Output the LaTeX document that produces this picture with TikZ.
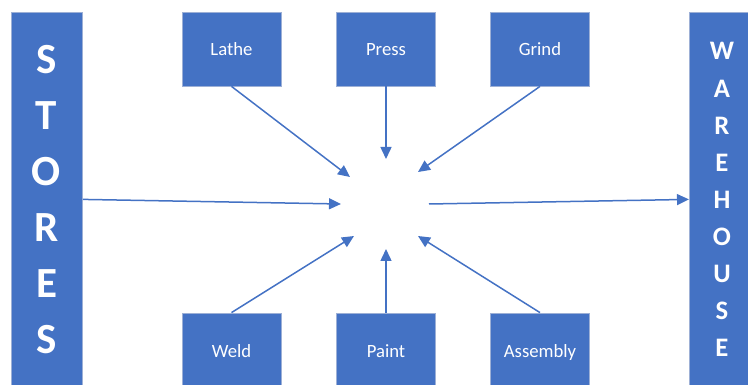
\documentclass[tikz,border=0pt]{standalone}
\usepackage{fontspec}
\setmainfont{Carlito}
\usetikzlibrary{arrows.meta}
\definecolor{boxblue}{HTML}{4472C4}
\definecolor{boxedge}{HTML}{9DB0D6}
\begin{document}
\begin{tikzpicture}[x=1pt,y=-1pt,
  station/.style={draw=boxedge, line width=0.8pt, fill=boxblue, text=white,
    minimum width=99pt, minimum height=74pt, inner sep=0pt,
    text height=13pt, text depth=0pt,
    font=\fontsize{18.7}{22}\selectfont},
  tall/.style={draw=boxedge, line width=0.8pt, fill=boxblue, inner sep=0pt, anchor=north west},
  bigletter/.style={text=white, anchor=base, inner sep=0pt, font=\fontsize{43}{50}\selectfont\bfseries},
  midletter/.style={text=white, anchor=base, inner sep=0pt, font=\fontsize{26.7}{30}\selectfont\bfseries},
  flow/.style={draw=boxblue, line width=1.5pt, -{Triangle[length=12pt,width=11pt]}}]
\useasboundingbox (0,0) rectangle (748,385);
\begin{scope}
  \clip (0,0) rectangle (748,385);
  % side blocks
  \node[tall, minimum width=71pt, minimum height=374pt] (stores) at (11,12) {};
  \node[tall, minimum width=66pt, minimum height=374pt] (warehouse) at (689,12) {};
  % work stations
  \node[station] (lathe) at (231.5,49) {Lathe};
  \node[station] (press) at (386,49) {Press};
  \node[station] (grind) at (540,49) {Grind};
  \node[station, minimum height=76pt] (weld) at (231.5,351) {Weld};
  \node[station, minimum height=76pt] (paint) at (386,351) {Paint};
  \node[station, minimum height=76pt] (assembly) at (540,351) {Assembly};
\end{scope}
% vertical lettering
\foreach \ch [count=\i from 0] in {S,T,O,R,E,S}
  \node[bigletter] (st\i) at (46.5,74+55.8*\i) {\ch};
\foreach \ch [count=\i from 0] in {W,A,R,E,H,O,U,S,E}
  \node[midletter] (wh\i) at (722,60+37.1*\i) {\ch};
% arrow ends around the central hub
\coordinate (hLathe) at (350,177);
\coordinate (hPress) at (386,159);
\coordinate (hGrind) at (418,172);
\coordinate (hIn) at (341,204);
\coordinate (hOut) at (429,204);
\coordinate (hWeld) at (354,236);
\coordinate (hPaint) at (386,249);
\coordinate (hAssembly) at (418,236);
% flows
\draw[flow] (lathe.south) -- (hLathe);
\draw[flow] (press.south) -- (hPress);
\draw[flow] (grind.south) -- (hGrind);
\draw[flow] (stores.east) -- (hIn);
\draw[flow] (hOut) -- (warehouse.west);
\draw[flow] (weld.north) -- (hWeld);
\draw[flow] (paint.north) -- (hPaint);
\draw[flow] (assembly.north) -- (hAssembly);
\end{tikzpicture}
\end{document}
